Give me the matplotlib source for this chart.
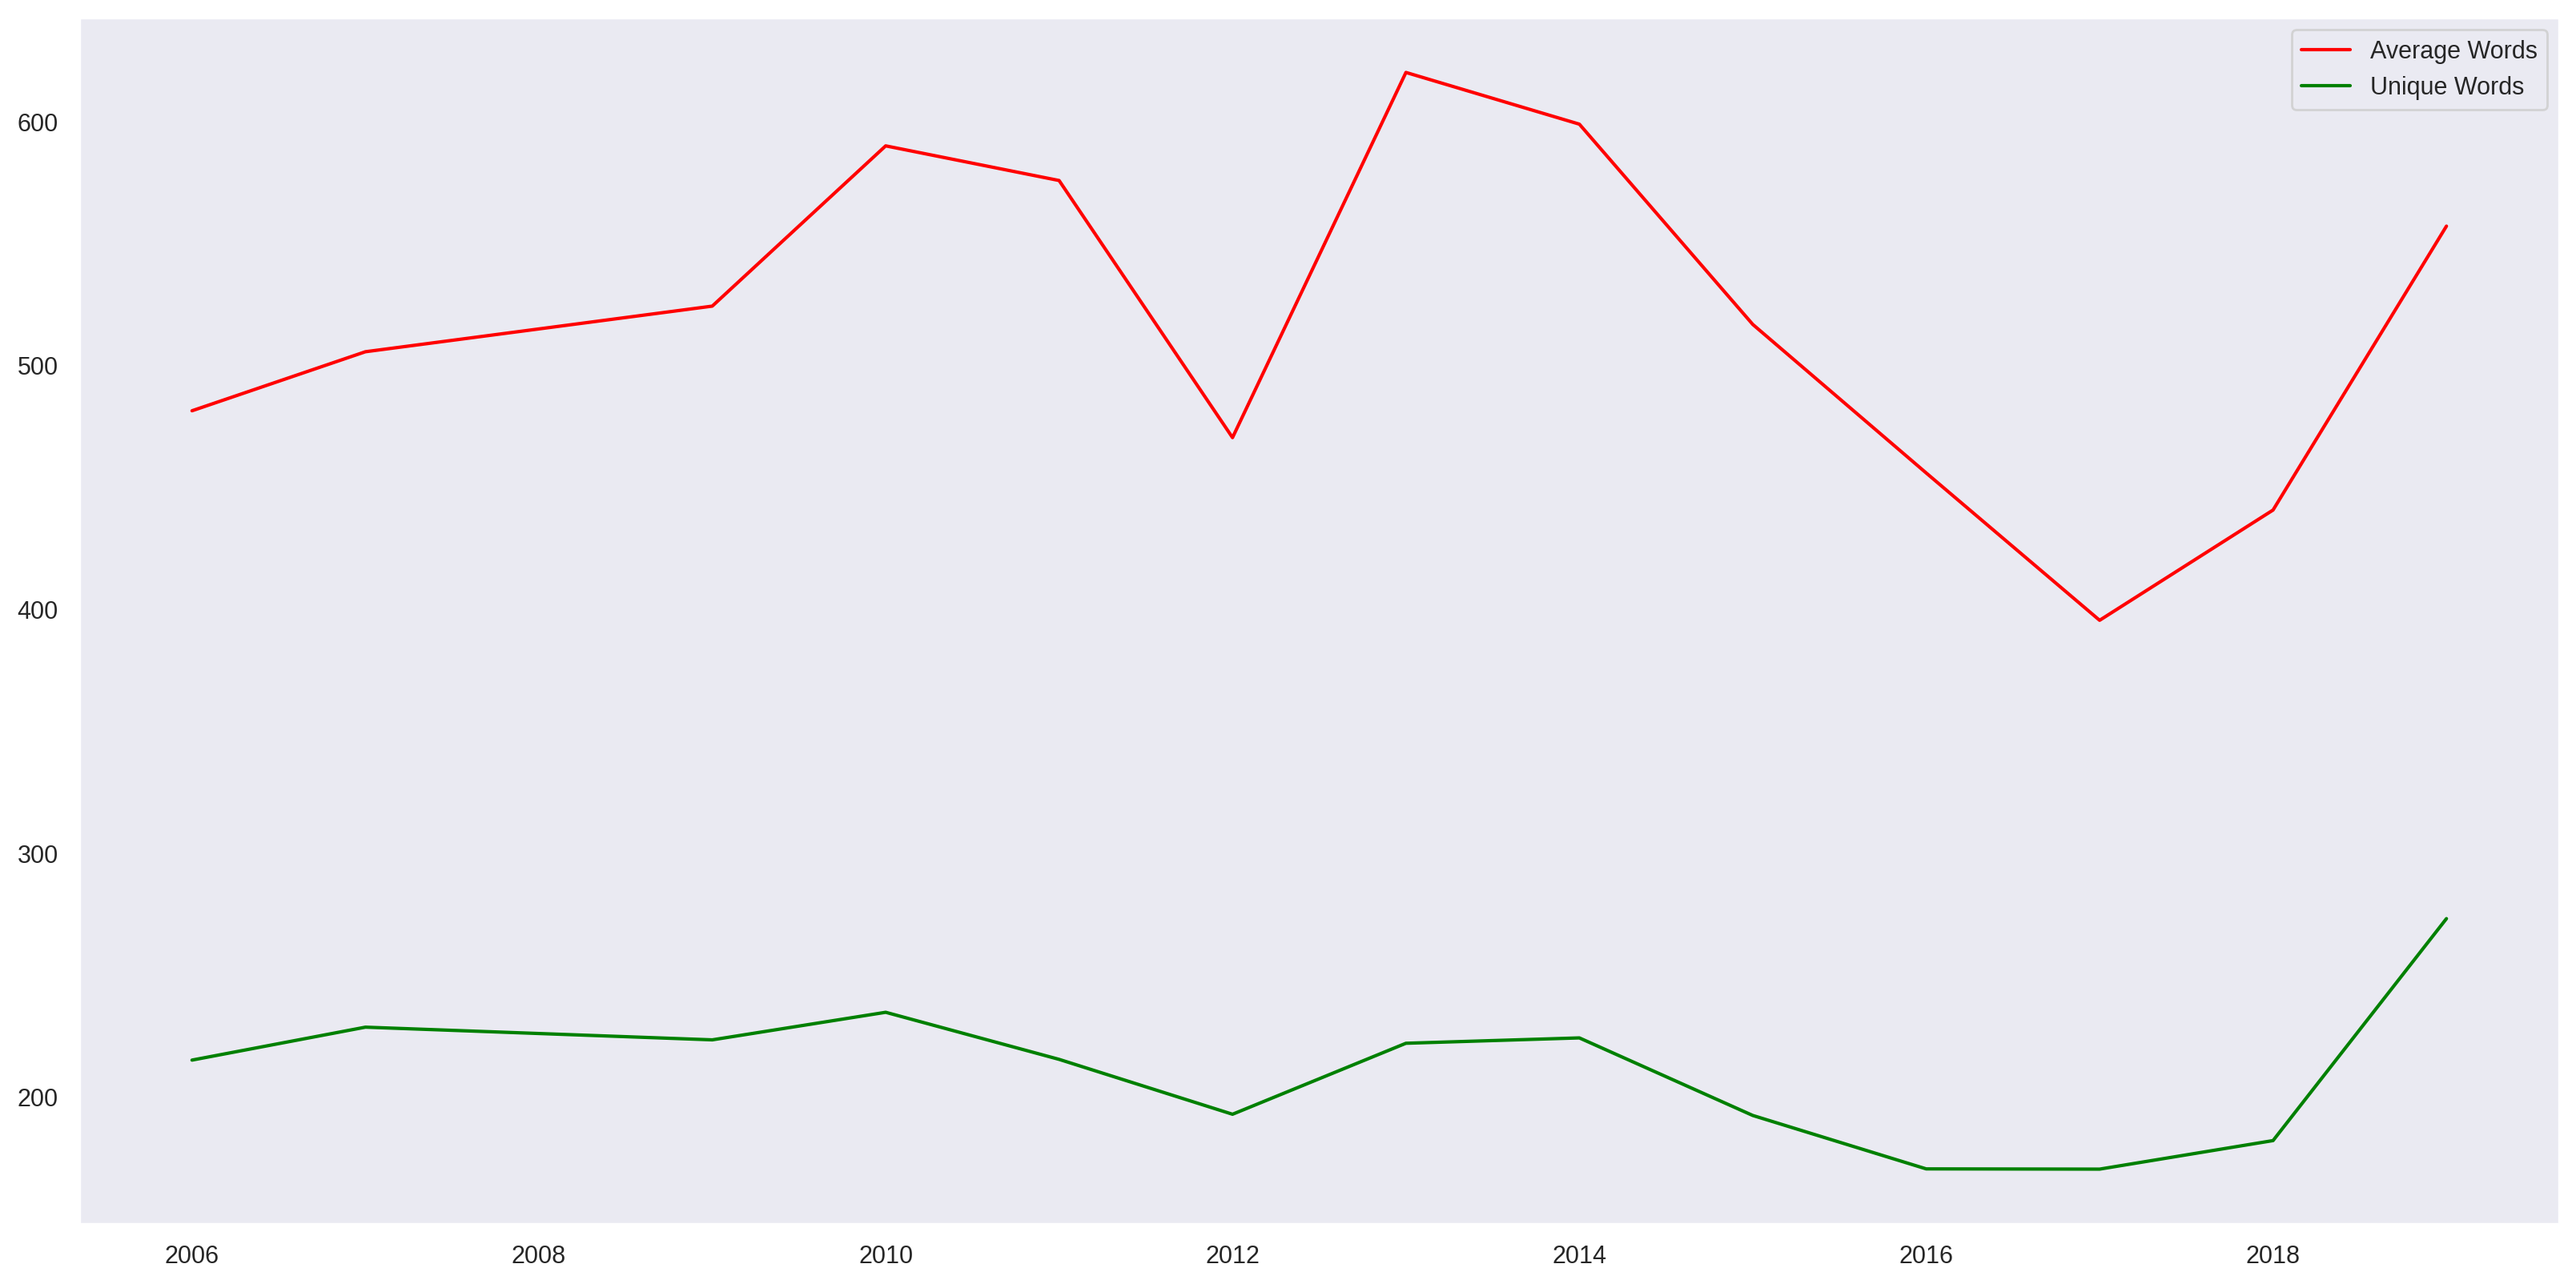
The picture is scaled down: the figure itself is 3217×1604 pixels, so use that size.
import matplotlib
matplotlib.use("Agg")
import matplotlib.pyplot as plt
import seaborn as sns

years = [2006, 2007, 2009, 2010, 2011, 2012, 2013, 2014, 2015, 2016, 2017, 2018, 2019]
average_words = [481.5, 505.7, 524.4, 590.1, 575.9, 470.5, 620.2, 599.0, 516.9, 456.0, 395.6, 440.8, 557.2]
unique_words = [215.3, 228.8, 223.6, 234.9, 215.6, 193.1, 222.2, 224.4, 192.6, 170.7, 170.6, 182.3, 273.3]


def main() -> None:
    sns.set_theme()
    plt.rcParams['font.family'] = ['Liberation Sans', 'DejaVu Sans']

    fig = plt.figure(figsize=(3217 / 200, 1604 / 200), dpi=200)
    ax = fig.add_subplot(111)
    fig.subplots_adjust(left=99 / 3217, right=3196 / 3217, top=1 - 22 / 1604, bottom=1 - 1529 / 1604)

    ax.plot(years, average_words, color='red', linewidth=1.5, label='Average Words')
    ax.plot(years, unique_words, color='green', linewidth=1.5, label='Unique Words')
    ax.grid(False)
    ax.legend(loc='upper right')

    fig.savefig("out.png", dpi=200)


if __name__ == "__main__":
    main()
